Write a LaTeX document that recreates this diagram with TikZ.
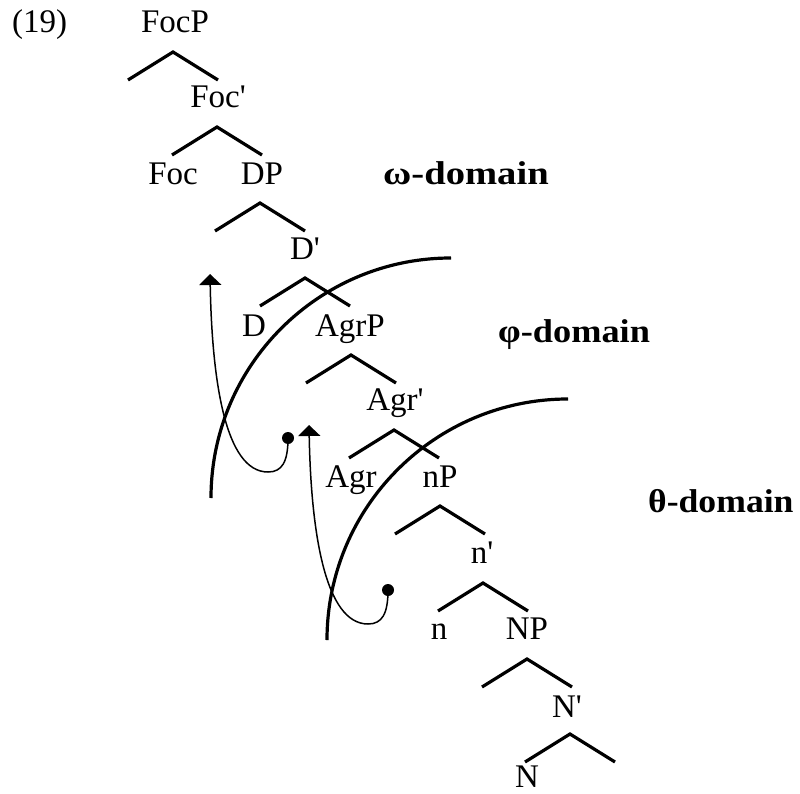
\documentclass[tikz,border=0pt]{standalone}
\usepackage{fontspec}
\setmainfont{Liberation Serif}[Ligatures=TeXOff]
\usetikzlibrary{arrows.meta}
\begin{document}
\begin{tikzpicture}[x=1pt,y=-1pt,
  lbl/.style={anchor=base, inner sep=0pt, font=\fontsize{33}{40}\selectfont},
  dom/.style={anchor=base west, inner sep=0pt, font=\fontsize{33}{40}\selectfont\bfseries},
  br/.style={line width=3.2pt},
  bound/.style={line width=3.2pt},
  move/.style={line width=1.5pt,-{Triangle[width=22pt,length=11pt]}},
  trace/.style={fill=black}]
\useasboundingbox (0,0) rectangle (800,794);

% labels
\node[lbl, anchor=base west] (ex) at (12,33) {(19)};
\node[lbl] (FocP) at (175,33) {FocP};
\node[lbl] (Focbar) at (218,108) {Foc'};
\node[lbl] (Foc) at (173,185) {Foc};
\node[lbl] (DP) at (262,185) {DP};
\node[lbl] (Dbar) at (305,260) {D'};
\node[lbl] (D) at (254,336) {D};
\node[lbl] (AgrP) at (350,336) {AgrP};
\node[lbl] (Agrbar) at (395,410) {Agr'};
\node[lbl] (Agr) at (351,487) {Agr};
\node[lbl] (nP) at (440,487) {nP};
\node[lbl] (nbar) at (482,563) {n'};
\node[lbl] (n) at (439,639) {n};
\node[lbl] (NP) at (527,639) {NP};
\node[lbl] (Nbar) at (567,717) {N'};
\node[lbl] (N) at (527,787) {N};

\node[dom] (omega) at (383,185) {\scalebox{1.17}[1]{ω-domain}};
\node[dom] (phi) at (498,342) {\scalebox{1.1}[1]{φ-domain}};
\node[dom] (theta) at (648,512) {\scalebox{1.08}[1]{θ-domain}};

% branches
\foreach \i/\x/\y in {1/173/52, 2/217/127, 3/260/203, 4/305/278, 5/351/355,
                      6/394/430, 7/440/506, 8/483/583, 9/527/659, 10/570/734} {
  \coordinate (top\i) at (\x,\y);
  \coordinate (left\i) at (\x-45,\y+28);
  \coordinate (right\i) at (\x+45,\y+28);
  \draw[br] (left\i) -- (top\i) -- (right\i);
}

% domain boundaries
\draw[bound] (211,498) arc[start angle=180, end angle=270, radius=240];
\draw[bound] (327,640) arc[start angle=180, end angle=270, radius=241];

% movement arrows
\coordinate (s1) at (288,438);
\coordinate (t1) at (210,274);
\coordinate (s2) at (388,590);
\coordinate (t2) at (309,425);
\fill[trace] (s1) circle (6);
\fill[trace] (s2) circle (6);
\draw[move] (s1) .. controls (288,462) and (282,472) .. (268,472)
                 .. controls (225,472) and (212,380) .. (t1);
\draw[move] (s2) .. controls (388,614) and (382,624) .. (368,624)
                 .. controls (325,624) and (311,532) .. (t2);
\end{tikzpicture}
\end{document}
